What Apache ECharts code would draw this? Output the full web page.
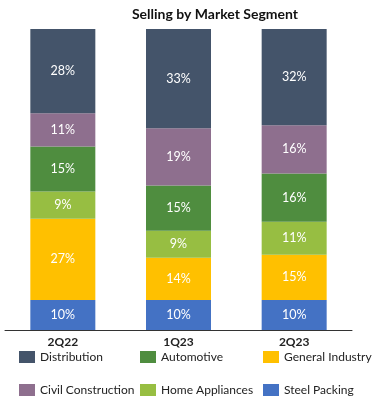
<!DOCTYPE html>
<html><head><meta charset="utf-8">
<script src="https://cdn.jsdelivr.net/npm/echarts@6/dist/echarts.min.js"></script>
<style>html,body{margin:0;padding:0;background:#fff}#c{width:381px;height:402px}</style>
</head><body><div id="c"></div>
<script>
const categories = ['2Q22', '1Q23', '2Q23'];
const steelPacking = [10, 10, 10];
const generalIndustry = [27, 14, 15];
const homeAppliances = [9, 9, 11];
const automotive = [15, 15, 16];
const civilConstruction = [11, 19, 16];
const distribution = [28, 33, 32];

const FONT = 'Lato';
const seriesDefs = [
  {name: 'Steel Packing', data: steelPacking, color: '#4472C4'},
  {name: 'General Industry', data: generalIndustry, color: '#FFC000'},
  {name: 'Home Appliances', data: homeAppliances, color: '#97BE42'},
  {name: 'Automotive', data: automotive, color: '#4F8D3F'},
  {name: 'Civil Construction', data: civilConstruction, color: '#8E6F8E'},
  {name: 'Distribution', data: distribution, color: '#44546A'}
];
const legendPos = {
  'Distribution': [19, 351], 'Automotive': [140, 351], 'General Industry': [263, 351],
  'Civil Construction': [19, 384], 'Home Appliances': [140, 384], 'Steel Packing': [263, 384]
};
const legends = Object.keys(legendPos).map(n => ({
  data: [n], left: legendPos[n][0], top: legendPos[n][1],
  itemWidth: 16, itemHeight: 12, itemGap: 6, icon: 'rect', padding: 0,
  textStyle: {fontFamily: FONT, fontSize: 12, color: '#222'}
}));
const chart = echarts.init(document.getElementById('c'));
chart.setOption({
  animation: false,
  title: {text: 'Selling by Market Segment', left: 210, textAlign: 'center', top: 2,
    textStyle: {fontFamily: FONT, fontSize: 14, fontWeight: 'bold', color: '#111'}},
  legend: legends,
  grid: {left: 5, right: 29, top: 29, bottom: 72},
  xAxis: {type: 'category', data: categories,
    axisLine: {lineStyle: {color: '#333', width: 1}}, axisTick: {show: false},
    axisLabel: {fontFamily: FONT, fontSize: 12, fontWeight: 'bold', color: '#222', margin: 6}},
  yAxis: {type: 'value', min: 0, max: 100, show: false},
  series: seriesDefs.map(s => ({
    name: s.name, type: 'bar', stack: 'total', data: s.data, barWidth: 65,
    itemStyle: {color: s.color},
    label: {show: true, position: 'inside', formatter: '{c}%', color: '#fff',
      fontFamily: FONT, fontSize: 12.5}
  }))
});
</script></body></html>
